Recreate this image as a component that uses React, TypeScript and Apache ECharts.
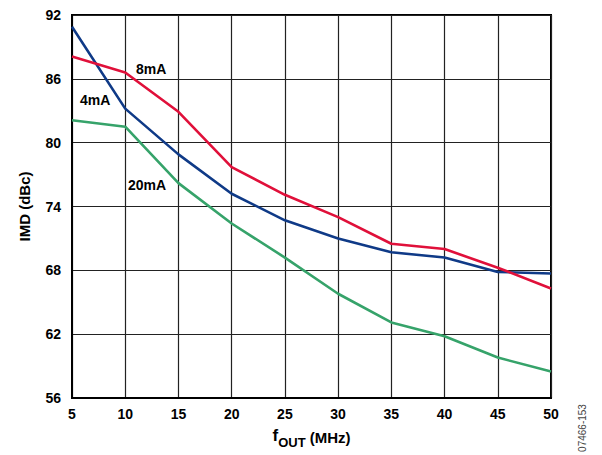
import React, { useEffect, useRef } from "react";
import * as echarts from "echarts";

const fOut = [5, 10, 15, 20, 25, 30, 35, 40, 45, 50];
const imd4mA = [90.9, 83.2, 78.9, 75.2, 72.7, 71.0, 69.7, 69.2, 67.85, 67.7];
const imd8mA = [88.1, 86.6, 82.9, 77.7, 75.1, 73.0, 70.5, 70.0, 68.25, 66.3];
const imd20mA = [82.1, 81.5, 76.2, 72.4, 69.2, 65.8, 63.1, 61.8, 59.8, 58.5];
const seriesNames = ["4mA", "8mA", "20mA"];
const colors = ["#0f3a87", "#e0103a", "#36a36a"];

const FONT = "'Liberation Sans', Arial, sans-serif";

export default function App() {
  const ref = useRef<HTMLDivElement>(null);
  useEffect(() => {
    if (!ref.current) return;
    const chart = echarts.init(ref.current, undefined, { renderer: "svg" });
    const mk = (vals: number[]) => fOut.map((x, i) => [x, vals[i]]);
    const allData = [imd4mA, imd8mA, imd20mA];
    chart.setOption({
      animation: false,
      backgroundColor: "#fff",
      grid: {
        left: 72,
        top: 15,
        right: 51,
        bottom: 57,
        show: true,
        borderColor: "#000",
        borderWidth: 2,
        containLabel: false,
      },
      xAxis: {
        type: "value",
        min: 5,
        max: 50,
        interval: 5,
        axisLine: { show: true, lineStyle: { color: "#000", width: 2 } },
        axisTick: { show: false },
        splitLine: { show: true, lineStyle: { color: "#222", width: 1.2 } },
        axisLabel: {
          color: "#000",
          fontFamily: FONT,
          fontWeight: "bold",
          fontSize: 14,
          margin: 9,
        },
        name: "{f|f}{sub|OUT}{m| (MHz)}",
        nameLocation: "middle",
        nameGap: 29,
        nameTextStyle: {
          rich: {
            f: { fontFamily: FONT, fontWeight: "bold", fontSize: 17, color: "#000", verticalAlign: "bottom", padding: [0, 0, 5, 0] },
            sub: { fontFamily: FONT, fontWeight: "bold", fontSize: 13, color: "#000", verticalAlign: "bottom" },
            m: { fontFamily: FONT, fontWeight: "bold", fontSize: 15, color: "#000", verticalAlign: "bottom", padding: [0, 0, 4, 0] },
          },
        },
      },
      yAxis: {
        type: "value",
        min: 56,
        max: 92,
        interval: 6,
        axisLine: { show: true, lineStyle: { color: "#000", width: 2 } },
        axisTick: { show: false },
        splitLine: { show: true, lineStyle: { color: "#222", width: 1.2 } },
        axisLabel: {
          color: "#000",
          fontFamily: FONT,
          fontWeight: "bold",
          fontSize: 14,
          margin: 11,
        },
        name: "IMD (dBc)",
        nameLocation: "middle",
        nameRotate: 90,
        nameGap: 40,
        nameTextStyle: { fontFamily: FONT, fontWeight: "bold", fontSize: 15, color: "#000" },
      },
      series: seriesNames.map((n, i) => ({
        name: n,
        type: "line",
        data: mk(allData[i]),
        symbol: "none",
        lineStyle: { color: colors[i], width: 2.6 },
        z: i === 1 ? 3 : 2,
      })),
      graphic: [
        { type: "text", left: 136, top: 62, style: { text: "8mA", font: `bold 14px ${FONT}`, fill: "#000" } },
        { type: "text", left: 80, top: 93, style: { text: "4mA", font: `bold 14px ${FONT}`, fill: "#000" } },
        { type: "text", left: 128, top: 178, style: { text: "20mA", font: `bold 14px ${FONT}`, fill: "#000" } },
        {
          type: "text",
          x: 582,
          y: 428,
          rotation: Math.PI / 2,
          style: {
            text: "07466-153",
            font: `10px ${FONT}`,
            fill: "#444",
            align: "center",
            verticalAlign: "middle",
          },
        },
      ],
    });
    return () => chart.dispose();
  }, []);
  return (
    <div
      ref={ref}
      style={{ position: "fixed", left: 0, top: 0, width: 602, height: 455 }}
    />
  );
}
